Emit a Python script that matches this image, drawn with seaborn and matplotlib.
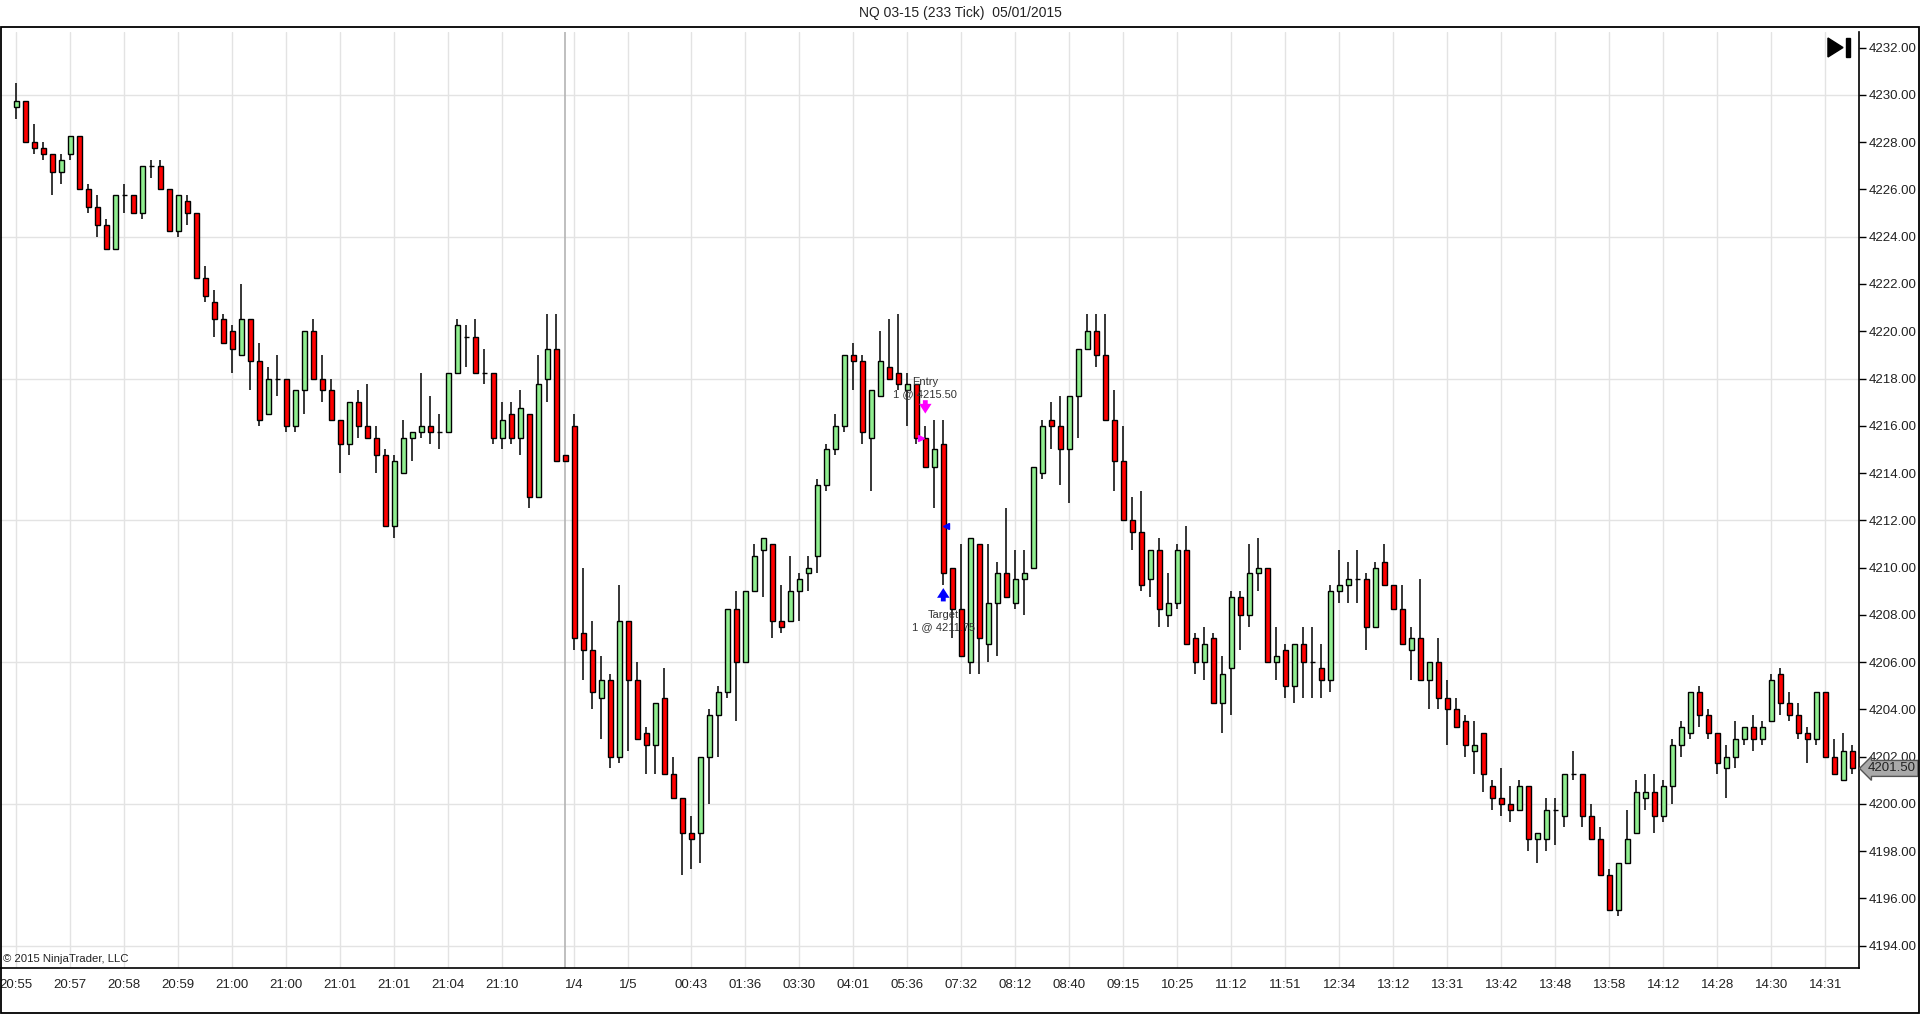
import numpy as np
import matplotlib
matplotlib.use('Agg')
import matplotlib.pyplot as plt
import matplotlib.patches as mpatches
import seaborn as sns

title = 'NQ 03-15 (233 Tick)  05/01/2015'

opens = [4229.5, 4229.75, 4228, 4227.75, 4227.5, 4226.75, 4227.5, 4228.25, 4226, 4225.25,
         4224.5, 4223.5, 4225.75, 4225.75, 4225, 4227, 4227, 4226, 4224.25, 4225.5,
         4225, 4222.25, 4221.25, 4220.5, 4220, 4219, 4220.5, 4218.75, 4216.5, 4218,
         4218, 4216, 4217.5, 4220, 4218, 4217.5, 4216.25, 4215.25, 4217, 4216,
         4215.5, 4214.75, 4211.75, 4214, 4215.5, 4215.75, 4216, 4215.75, 4215.75, 4218.25,
         4219.75, 4219.75, 4218.25, 4218.25, 4215.5, 4216.5, 4215.5, 4216.5, 4213, 4218,
         4219.25, 4214.75, 4216, 4207.25, 4206.5, 4204.5, 4205.25, 4202, 4207.75, 4205.25,
         4203, 4202.5, 4204.5, 4201.25, 4200.25, 4198.75, 4198.75, 4202, 4203.75, 4204.75,
         4208.25, 4206, 4209, 4210.75, 4211, 4207.75, 4207.75, 4209, 4209.75, 4210.5,
         4213.5, 4215, 4216, 4219, 4218.75, 4215.5, 4217.25, 4218.5, 4218.25, 4217.5,
         4217.75, 4215.5, 4214.25, 4215.25, 4210, 4208.25, 4206, 4211, 4206.75, 4208.5,
         4209.75, 4208.5, 4209.5, 4210, 4214, 4216.25, 4216, 4215, 4217.25, 4219.25,
         4220, 4219, 4216.25, 4214.5, 4212, 4211.5, 4209.5, 4210.75, 4208, 4208.5,
         4210.75, 4207, 4206, 4207, 4204.25, 4205.75, 4208.75, 4208, 4209.75, 4210,
         4206, 4206.5, 4205, 4206.75, 4206, 4205.75, 4205.25, 4209, 4209.25, 4209.5,
         4209.5, 4207.5, 4210.25, 4209.25, 4208.25, 4206.5, 4207, 4205.25, 4206, 4204.5,
         4204, 4203.5, 4202.25, 4203, 4200.75, 4200.25, 4200, 4199.75, 4200.75, 4198.5,
         4198.5, 4199.75, 4199.5, 4201.25, 4201.25, 4199.5, 4198.5, 4197, 4195.5, 4197.5,
         4198.75, 4200.25, 4200.5, 4199.5, 4200.75, 4202.5, 4203, 4204.75, 4203.75, 4203,
         4201.5, 4202, 4202.75, 4203.25, 4202.75, 4203.5, 4205.5, 4204.25, 4203.75, 4203,
         4202.75, 4204.75, 4202, 4201, 4202.25]
highs = [4230.5, 4229.75, 4228.75, 4228, 4227.5, 4227.5, 4228.25, 4228.25, 4226.25, 4225.75,
         4224.75, 4225.75, 4226.25, 4225.75, 4227, 4227.25, 4227.25, 4226, 4225.75, 4225.75,
         4225, 4222.75, 4221.75, 4220.75, 4220.25, 4222, 4220.5, 4219.5, 4218.5, 4219,
         4218, 4217.5, 4220, 4220.5, 4219, 4218, 4216.25, 4217, 4217.5, 4217.75,
         4216, 4215, 4214.75, 4216.25, 4215.75, 4218.25, 4217.25, 4216.5, 4218.25, 4220.5,
         4220.25, 4220.5, 4219.25, 4218.25, 4217, 4217, 4217.5, 4216.5, 4219, 4220.75,
         4220.75, 4214.75, 4216.5, 4210, 4207.75, 4206.25, 4205.5, 4209.25, 4207.75, 4206,
         4203.25, 4204.25, 4205.75, 4202, 4200.25, 4199.5, 4202, 4204, 4205, 4208.25,
         4209, 4209, 4211, 4211.25, 4211, 4209.25, 4210.5, 4209.75, 4210.5, 4213.75,
         4215.25, 4216.5, 4219, 4219.5, 4219, 4217.5, 4220, 4220.5, 4220.75, 4218.25,
         4217.75, 4216, 4216.25, 4216.25, 4210, 4211, 4211.25, 4211, 4211, 4210.25,
         4212.5, 4210.75, 4210.75, 4214.25, 4216.25, 4217, 4217.25, 4217.25, 4219.25, 4220.75,
         4220.75, 4220.75, 4217.5, 4216, 4213, 4213.25, 4210.75, 4211.25, 4209.75, 4211,
         4211.75, 4207.25, 4207.5, 4207.25, 4206.25, 4209, 4209, 4211, 4211.25, 4210,
         4207.5, 4206.75, 4206.75, 4207.5, 4207.5, 4206.75, 4209.25, 4210.75, 4210.25, 4210.75,
         4209.75, 4210.25, 4211, 4209.25, 4209.25, 4207.5, 4209.5, 4206, 4207, 4205.25,
         4204.5, 4203.75, 4203.5, 4203, 4201, 4201.5, 4200.75, 4201, 4200.75, 4198.75,
         4200.25, 4200.25, 4201.25, 4202.25, 4201.25, 4200, 4199, 4197.25, 4197.5, 4199.75,
         4201, 4201.25, 4201.25, 4201, 4202.75, 4203.5, 4204.75, 4205, 4204, 4203,
         4202.5, 4203.5, 4203.25, 4203.75, 4203.5, 4205.5, 4205.75, 4204.75, 4204.25, 4203.25,
         4204.75, 4204.75, 4202.75, 4203, 4202.5]
lows = [4229, 4228, 4227.5, 4227.25, 4225.75, 4226.25, 4227.25, 4226, 4225, 4224,
        4223.5, 4223.5, 4225, 4225, 4224.75, 4226.5, 4226, 4224.25, 4224, 4224.5,
        4222.25, 4221.25, 4219.75, 4219.5, 4218.25, 4219, 4217.5, 4216, 4216.5, 4217.25,
        4215.75, 4215.75, 4216.5, 4218, 4217, 4216.25, 4214, 4214.75, 4215.5, 4215.5,
        4214, 4211.75, 4211.25, 4214, 4214.5, 4215.5, 4215.25, 4215, 4215.75, 4218.25,
        4218.5, 4218.25, 4217.75, 4215.25, 4215, 4215.25, 4214.75, 4212.5, 4213, 4217,
        4214.5, 4214.5, 4206.5, 4205.25, 4204, 4202.75, 4201.5, 4201.75, 4202.25, 4202.75,
        4201.25, 4201.25, 4201.25, 4200.25, 4197, 4197.25, 4197.5, 4200, 4202, 4204.5,
        4203.5, 4206, 4209, 4208.75, 4207, 4207.25, 4207.75, 4207.75, 4209, 4209.75,
        4213.25, 4214.75, 4215.75, 4217.5, 4215.25, 4213.25, 4217.25, 4218, 4217.5, 4216,
        4215.25, 4214.25, 4212.5, 4209.25, 4207, 4206.25, 4205.5, 4205.5, 4206, 4206.25,
        4208.75, 4208.25, 4208, 4210, 4213.75, 4215, 4213.5, 4212.75, 4215.5, 4219.25,
        4218.5, 4216.25, 4213.25, 4212, 4210.75, 4209, 4208.75, 4207.5, 4207.5, 4208.25,
        4206.75, 4205.5, 4205.25, 4204.25, 4203, 4203.75, 4206.5, 4207.5, 4209, 4206,
        4205.25, 4204.5, 4204.25, 4204.5, 4204.5, 4204.5, 4204.75, 4208.5, 4208.5, 4208.5,
        4206.5, 4207.5, 4209.25, 4208.25, 4206.75, 4205.25, 4205.25, 4204, 4204, 4202.5,
        4203.25, 4202, 4201.25, 4200.5, 4199.75, 4199.5, 4199.25, 4199.75, 4198, 4197.5,
        4198, 4198.25, 4199, 4201, 4199, 4198.5, 4197, 4195.5, 4195.25, 4197.5,
        4198.75, 4199.75, 4198.75, 4199.25, 4200, 4202, 4202.75, 4203.25, 4202.75, 4201.25,
        4200.25, 4201.5, 4202.5, 4202.25, 4202.5, 4203.5, 4203.75, 4203.5, 4202.75, 4201.75,
        4202.5, 4202, 4201.25, 4201, 4201.25]
closes = [4229.75, 4228, 4227.75, 4227.5, 4226.75, 4227.25, 4228.25, 4226, 4225.25, 4224.5,
          4223.5, 4225.75, 4225.75, 4225, 4227, 4227, 4226, 4224.25, 4225.75, 4225,
          4222.25, 4221.5, 4220.5, 4219.5, 4219.25, 4220.5, 4218.75, 4216.25, 4218, 4218,
          4216, 4217.5, 4220, 4218, 4217.5, 4216.25, 4215.25, 4217, 4216, 4215.5,
          4214.75, 4211.75, 4214.5, 4215.5, 4215.75, 4216, 4215.75, 4215.75, 4218.25, 4220.25,
          4219.75, 4218.25, 4218.25, 4215.5, 4216.25, 4215.5, 4216.75, 4213, 4217.75, 4219.25,
          4214.5, 4214.5, 4207, 4206.5, 4204.75, 4205.25, 4202, 4207.75, 4205.25, 4202.75,
          4202.5, 4204.25, 4201.25, 4200.25, 4198.75, 4198.5, 4202, 4203.75, 4204.75, 4208.25,
          4206, 4209, 4210.5, 4211.25, 4207.75, 4207.5, 4209, 4209.5, 4210, 4213.5,
          4215, 4216, 4219, 4218.75, 4215.75, 4217.5, 4218.75, 4218, 4217.75, 4217.75,
          4215.5, 4214.25, 4215, 4209.75, 4208.25, 4206.25, 4211.25, 4207, 4208.5, 4209.75,
          4208.75, 4209.5, 4209.75, 4214.25, 4216, 4216, 4215, 4217.25, 4219.25, 4220,
          4219, 4216.25, 4214.5, 4212, 4211.5, 4209.25, 4210.75, 4208.25, 4208.5, 4210.75,
          4206.75, 4206, 4206.75, 4204.25, 4205.5, 4208.75, 4208, 4209.75, 4210, 4206,
          4206.25, 4205, 4206.75, 4206, 4206, 4205.25, 4209, 4209.25, 4209.5, 4209.5,
          4207.5, 4210, 4209.25, 4208.25, 4206.75, 4207, 4205.25, 4206, 4204.5, 4204,
          4203.25, 4202.5, 4202.5, 4201.25, 4200.25, 4200, 4199.75, 4200.75, 4198.5, 4198.75,
          4199.75, 4199.75, 4201.25, 4201.25, 4199.5, 4198.5, 4197, 4195.5, 4197.5, 4198.5,
          4200.5, 4200.5, 4199.5, 4200.75, 4202.5, 4203.25, 4204.75, 4203.75, 4203, 4201.75,
          4202, 4202.75, 4203.25, 4202.75, 4203.25, 4205.25, 4204.25, 4203.75, 4203, 4202.75,
          4204.75, 4202, 4201.25, 4202.25, 4201.5]

tick_bars = [0, 6, 12, 18, 24, 30, 36, 42, 48, 54, 62, 68, 75, 81, 87, 93, 99, 105, 111,
             117, 123, 129, 135, 141, 147, 153, 159, 165, 171, 177, 183, 189, 195, 201]
tick_labels = ['20:55', '20:57', '20:58', '20:59', '21:00', '21:00', '21:01', '21:01',
               '21:04', '21:10', '1/4', '1/5', '00:43', '01:36', '03:30', '04:01', '05:36',
               '07:32', '08:12', '08:40', '09:15', '10:25', '11:12', '11:51', '12:34',
               '13:12', '13:31', '13:42', '13:48', '13:58', '14:12', '14:28', '14:30', '14:31']
session_bar = 61

entry_bar, entry_price = 101, 4215.50
target_bar, target_price = 103, 4211.75
last_price = closes[-1]

sns.set_theme(style='white')
plt.rcParams['font.family'] = ['Liberation Sans', 'DejaVu Sans']
narrow = ['Liberation Sans Narrow', 'Liberation Sans', 'DejaVu Sans']

W, H = 1920, 1014
fig = plt.figure(figsize=(W / 100, H / 100), dpi=100)
ax_left, ax_right, ax_top, ax_bot = 0, 1859, 32, 968
ax = fig.add_axes([ax_left / W, 1 - ax_bot / H, (ax_right - ax_left) / W, (ax_bot - ax_top) / H])

df_x = np.arange(len(opens))
o = np.array(opens); c = np.array(closes)
up = c >= o
colors = np.where(up, '#90ee90', '#ff0000')

# grid
for t in tick_bars:
    ax.axvline(t, color='#e3e3e3', lw=1, zorder=0)
for g in range(4194, 4232, 6):
    ax.axhline(g, color='#e3e3e3', lw=1, zorder=0)
ax.axvline(session_bar, color='#b4b4b4', lw=1.2, zorder=0.5)

# candles
ax.vlines(df_x, lows, highs, color='black', lw=1.1, zorder=2)
ax.bar(df_x, np.abs(c - o), bottom=np.minimum(o, c), width=0.62, color=colors,
       edgecolor='black', linewidth=1.0, zorder=3)

# entry / target markers
arrow_style = 'simple,head_length=0.7,head_width=0.9,tail_width=0.35'
ax.annotate('', xy=(entry_bar, highs[entry_bar] + 0.4), xytext=(entry_bar, highs[entry_bar] + 1.2),
            arrowprops=dict(arrowstyle=arrow_style, color='#ff00ff', lw=0, mutation_scale=10), zorder=5)
ax.plot(entry_bar - 0.45, entry_price, marker='>', color='#ff00ff', ms=5, zorder=5)
ax.text(entry_bar, highs[entry_bar] + 1.85, 'Entry', ha='center', va='center', fontsize=8, color='#333333', zorder=6)
ax.text(entry_bar, highs[entry_bar] + 1.35, '1 @ %.2f' % entry_price, ha='center', va='center',
        fontsize=8, color='#333333', zorder=6)

ax.annotate('', xy=(target_bar, lows[target_bar] - 0.0), xytext=(target_bar, lows[target_bar] - 0.8),
            arrowprops=dict(arrowstyle=arrow_style, color='#0000ff', lw=0, mutation_scale=10), zorder=5)
ax.plot(target_bar + 0.3, target_price, marker='<', color='#0000ff', ms=5, zorder=5)
ax.text(target_bar, lows[target_bar] - 1.25, 'Target', ha='center', va='center', fontsize=8, color='#333333', zorder=6)
ax.text(target_bar, lows[target_bar] - 1.77, '1 @ %.2f' % target_price, ha='center', va='center',
        fontsize=8, color='#333333', zorder=6)

# axes
ax.set_xlim(-16.3 / 9, (ax_right - 16.3) / 9)
ax.set_ylim(4232 - (ax_bot - 47.7) / 23.63, 4232 + (47.7 - ax_top) / 23.63)
ax.set_xticks(tick_bars)
ax.set_xticklabels(tick_labels, family=narrow)
ax.set_yticks(np.arange(4194, 4233, 2))
ax.set_yticklabels(['%.2f' % v for v in np.arange(4194, 4233, 2)], family=narrow)
ax.yaxis.tick_right()
ax.tick_params(axis='both', which='major', labelsize=9.5, colors='black', length=5, width=1,
               direction='out', pad=2, labelcolor='#222222')
ax.tick_params(axis='x', pad=3)
for s in ['top', 'left']:
    ax.spines[s].set_visible(False)
for s in ['right', 'bottom']:
    ax.spines[s].set_color('black')
    ax.spines[s].set_linewidth(1.2)
ax.set_facecolor('white')

# last price tag
ax.annotate('%.2f' % last_price, xy=(1.0, last_price), xycoords=('axes fraction', 'data'),
            xytext=(6.5, 0), textcoords='offset points', ha='left', va='center', fontsize=9.5,
            color='#222222', family=narrow,
            bbox=dict(boxstyle='larrow,pad=0.15', fc='#a9a9a9', ec='#555555', lw=1), zorder=10,
            annotation_clip=False)

# go-to-end icon
ax.add_patch(mpatches.Polygon([[0.9833, 0.9936], [0.9833, 0.9733], [0.9914, 0.9834]],
                              closed=True, transform=ax.transAxes, color='black', zorder=10))
ax.add_patch(mpatches.Rectangle((0.9930, 0.9733), 0.0020, 0.0203, transform=ax.transAxes,
                                color='black', zorder=10))

ax.text(0.0015, 0.004, '\u00a9 2015 NinjaTrader, LLC', transform=ax.transAxes, ha='left',
        va='bottom', fontsize=8.2, color='#222222')

# outer frame and title
fig.add_artist(mpatches.Rectangle((0.6 / W, 0.6 / H), 1 - 1.6 / W, 1 - 27.5 / H, transform=fig.transFigure,
                                  fill=False, ec='black', lw=1.3))
fig.text(0.5, 1 - 13 / H, title, ha='center', va='center', fontsize=10, color='#222222')

fig.savefig('out.png', dpi=100, facecolor='white')
